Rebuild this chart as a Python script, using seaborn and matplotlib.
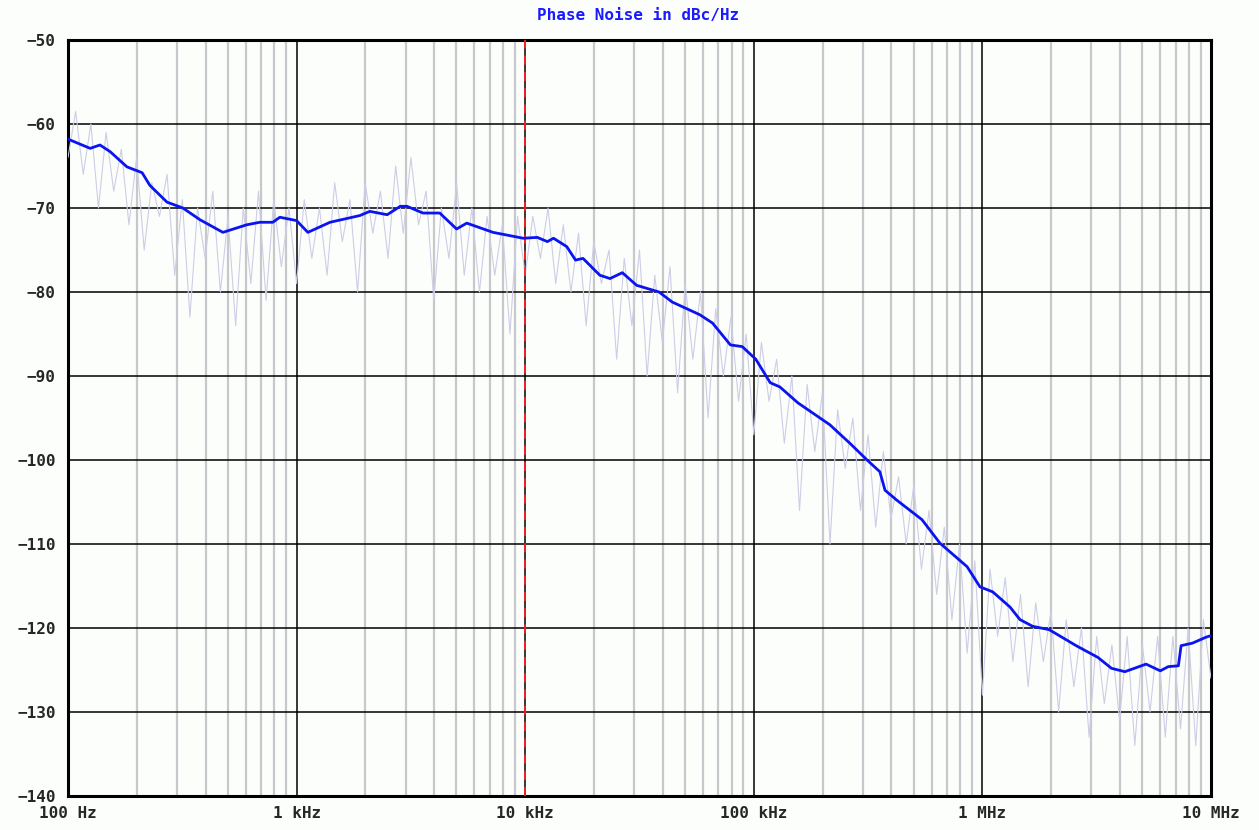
import matplotlib
matplotlib.use("Agg")
import matplotlib.pyplot as plt
import numpy as np
import pandas as pd
import seaborn as sns

# smoothed phase noise trace
freq_smooth = [100, 125, 138, 153, 181, 211, 228, 271, 318, 378, 476, 605, 690, 787,
               845, 1000, 1120, 1400, 1890, 2090, 2490, 2840, 3040, 3570, 4230, 5010,
               5550, 7230, 9800, 11300, 12500, 13300, 15200, 16600, 17900, 21200,
               23500, 26600, 30700, 38500, 44000, 58000, 66000, 79000, 89000, 102000,
               118000, 130000, 156000, 215000, 263000, 313000, 356000, 375000, 423000,
               544000, 652000, 857000, 976000, 1110000, 1320000, 1460000, 1660000,
               1960000, 2570000, 3200000, 3670000, 4200000, 5200000, 6000000, 6500000,
               7200000, 7400000, 8300000, 9500000, 10000000]
pn_smooth = [-61.8, -62.9, -62.5, -63.3, -65.1, -65.8, -67.3, -69.3, -70.0, -71.4,
             -72.9, -72.0, -71.7, -71.7, -71.1, -71.5, -72.9, -71.7, -70.9, -70.4,
             -70.8, -69.8, -69.8, -70.6, -70.6, -72.5, -71.8, -72.9, -73.6, -73.5,
             -74.0, -73.6, -74.6, -76.2, -76.0, -78.0, -78.4, -77.7, -79.2, -80.0,
             -81.2, -82.7, -83.7, -86.3, -86.5, -88.0, -90.8, -91.3, -93.2, -95.8,
             -98.0, -100.0, -101.4, -103.6, -104.8, -107.1, -109.9, -112.7, -115.1,
             -115.7, -117.5, -119.0, -119.8, -120.2, -122.1, -123.5, -124.8, -125.2,
             -124.3, -125.1, -124.6, -124.5, -122.1, -121.8, -121.1, -120.9]

# raw measured trace, 30 points per decade
pn_raw = [
    -64, -58.5, -66, -60, -70, -61, -68, -63, -72, -64,
    -75, -67, -71, -66, -78, -69, -83, -70, -76, -68,
    -80, -71, -84, -70, -79, -68, -81, -69, -77, -70,
    -79, -69, -76, -70, -78, -67, -74, -69, -80, -67,
    -73, -68, -76, -65, -73, -64, -72, -68, -81, -70,
    -76, -67, -78, -70, -80, -71, -78, -72, -85, -71,
    -78, -71, -76, -70, -79, -72, -80, -73, -84, -74,
    -79, -75, -88, -76, -84, -75, -90, -78, -86, -77,
    -92, -79, -88, -80, -95, -82, -90, -83, -93, -85,
    -97, -86, -93, -88, -98, -90, -106, -91, -99, -92,
    -110, -94, -101, -95, -106, -97, -108, -99, -107, -102,
    -110, -103, -113, -106, -116, -108, -119, -110, -123, -112,
    -128, -113, -121, -114, -124, -116, -127, -117, -124, -118,
    -130, -119, -127, -120, -133, -121, -129, -122, -131, -121,
    -134, -122, -130, -121, -133, -121, -132, -120, -134, -119,
    -126,
]
freq_raw = np.geomspace(100, 1e7, len(pn_raw))

smooth_df = pd.DataFrame({"freq": freq_smooth, "pn": pn_smooth})
raw_df = pd.DataFrame({"freq": freq_raw, "pn": pn_raw})

sns.set_style("white")
plt.rcParams["font.family"] = ["DejaVu Sans Mono"]

fig = plt.figure(figsize=(12.59, 8.30), dpi=100, facecolor="#fcfefc")
ax = fig.add_axes([68 / 1259, 34 / 830, (1211 - 68) / 1259, (796 - 40) / 830])
ax.set_facecolor("#fcfefc")

ax.set_xscale("log")
ax.set_xlim(100, 1e7)
ax.set_ylim(-140, -50)

# grid
for dec in [100, 1000, 1e4, 1e5, 1e6]:
    for m in range(2, 10):
        ax.axvline(dec * m, color="#c8c8cc", lw=1.6, zorder=1)
for dec in [1000, 1e4, 1e5, 1e6]:
    ax.axvline(dec, color="black", lw=1.1, zorder=2)
for yv in range(-130, -50, 10):
    ax.axhline(yv, color="black", lw=1.1, zorder=2)

sns.lineplot(data=raw_df, x="freq", y="pn", ax=ax, color="#cdcde6", lw=0.8, zorder=3)
ax.axvline(1e4, color="#ff2020", lw=1.3, ls=(0, (5, 4)), zorder=4)
sns.lineplot(data=smooth_df, x="freq", y="pn", ax=ax, color="#0a14f0", lw=2.0, zorder=5)

for s in ax.spines.values():
    s.set_linewidth(2.2)
    s.set_color("black")

ax.set_xticks([100, 1000, 1e4, 1e5, 1e6, 1e7])
ax.set_xticklabels(["100 Hz", "1 kHz", "10 kHz", "100 kHz", "1 MHz", "10 MHz"])
ax.xaxis.set_minor_locator(matplotlib.ticker.NullLocator())
ax.set_yticks(range(-140, -49, 10))
ax.tick_params(axis="both", length=0, labelsize=11.5)
ax.tick_params(axis="x", pad=7)
ax.tick_params(axis="y", pad=9)
for lbl in ax.get_xticklabels() + ax.get_yticklabels():
    lbl.set_fontweight("bold")
ax.set_xlabel("")
ax.set_ylabel("")

fig.text(0.507, 0.981, "Phase Noise in dBc/Hz", color="#1a1aff", fontsize=11.5,
         fontweight="bold", ha="center", va="center")

fig.savefig("out.png", dpi=100, facecolor=fig.get_facecolor())
